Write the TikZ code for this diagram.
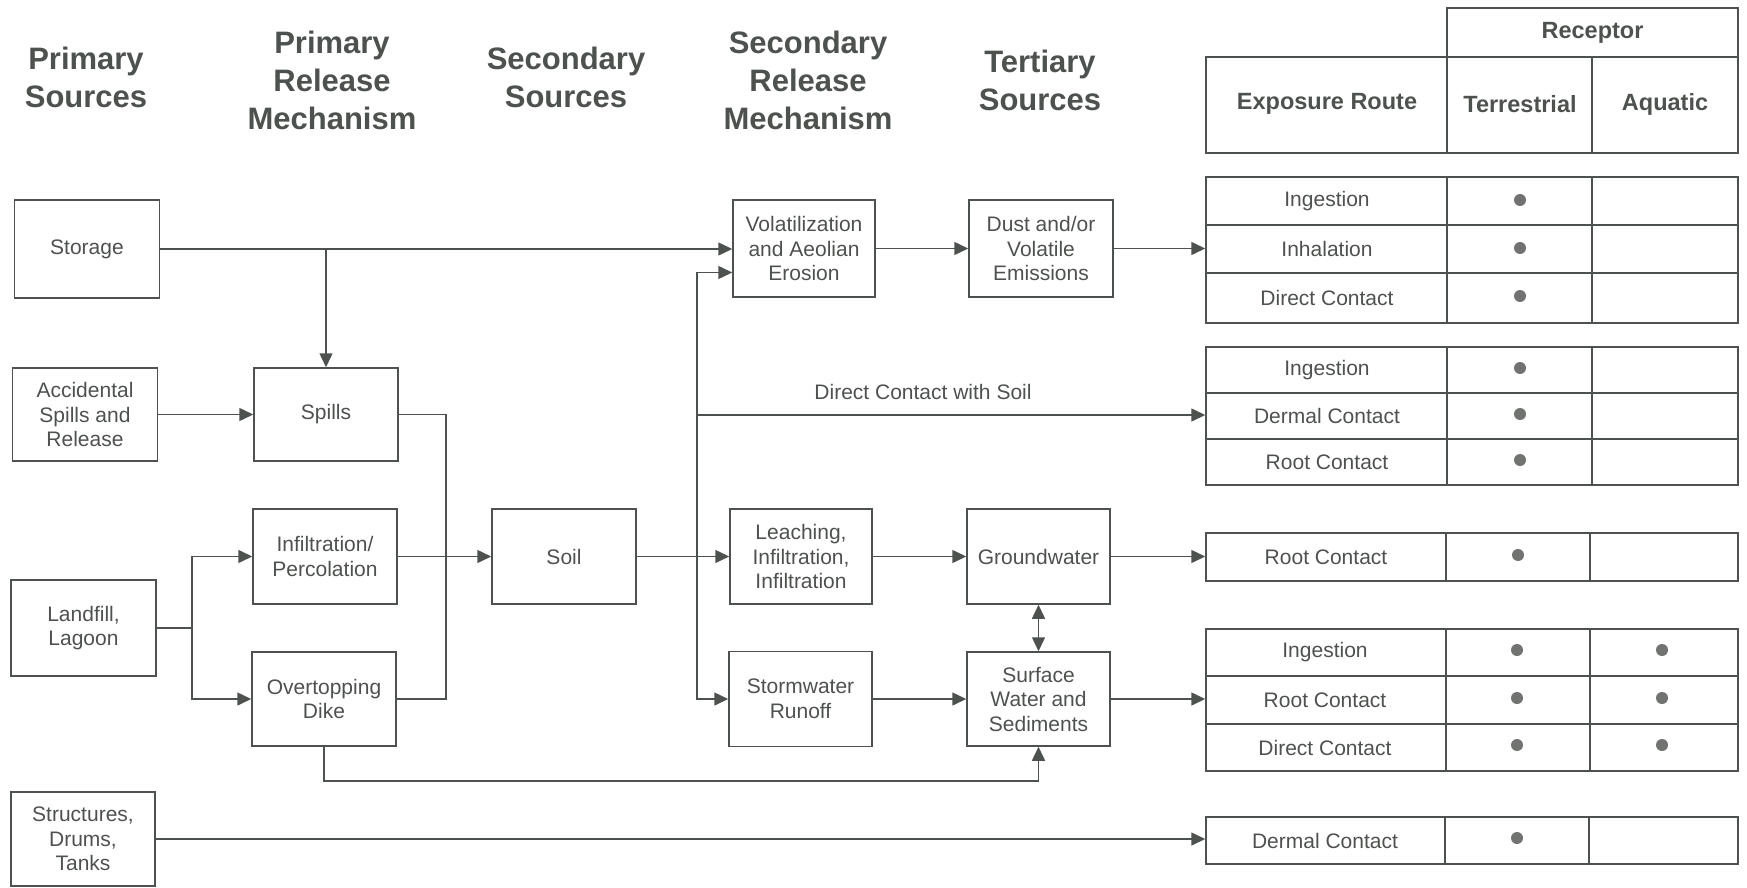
\documentclass[tikz,border=0pt]{standalone}
\usepackage{fontspec}
\setmainfont{Liberation Sans}
\usetikzlibrary{arrows.meta,calc}
\definecolor{ink}{RGB}{78,82,78}
\definecolor{dotc}{RGB}{112,115,112}
\begin{document}
\begin{tikzpicture}[x=1pt,y=-1pt,
  box/.style={draw=ink,line width=1.5pt,text=ink,inner sep=0pt,align=center,font=\fontsize{21}{24.5}\selectfont},
  hdr/.style={text=ink,align=center,font=\fontsize{31}{38}\selectfont\bfseries,inner sep=0pt},
  cell/.style={text=ink,font=\fontsize{21}{24}\selectfont,inner sep=0pt},
  hcell/.style={text=ink,font=\fontsize{23.5}{28}\selectfont\bfseries,inner sep=0pt},
  frame/.style={draw=ink,line width=1.5pt,inner sep=0pt},
  arr/.style={draw=ink,line width=1.5pt,-{Triangle[length=14pt,width=13pt]}},
  darr/.style={draw=ink,line width=1.5pt,{Triangle[length=14pt,width=13pt]}-{Triangle[length=14pt,width=13pt]}},
  ln/.style={draw=ink,line width=1.5pt},
  dot/.style={circle,fill=dotc,inner sep=0pt,minimum size=12pt},
]
\useasboundingbox[fill=white] (0,0) rectangle (1747,888);

% column headers
\node[hdr] (h1) at (86,77.5) {Primary\\Sources};
\node[hdr] (h2) at (332,80) {Primary\\Release\\Mechanism};
\node[hdr] (h3) at (566,77.5) {Secondary\\Sources};
\node[hdr] (h4) at (808,80) {Secondary\\Release\\Mechanism};
\node[hdr] (h5) at (1040,80) {Tertiary\\Sources};

% boxes
\node[box,minimum width=145pt,minimum height=98pt] (storage) at (87,249) {Storage};
\node[box,minimum width=145pt,minimum height=93pt] (acc) at (85,414.5) {Accidental\\Spills and\\Release};
\node[box,minimum width=145pt,minimum height=96pt] (land) at (83.5,628) {Landfill,\\Lagoon};
\node[box,minimum width=144pt,minimum height=94pt] (struct) at (83,839) {Structures,\\Drums,\\Tanks};
\node[box,minimum width=144pt,minimum height=93pt] (spills) at (326,414.5) {Spills};
\node[box,minimum width=144pt,minimum height=95pt] (infil) at (325,556.5) {Infiltration/\\Percolation};
\node[box,minimum width=144pt,minimum height=94pt] (over) at (324,699) {Overtopping\\Dike};
\node[box,minimum width=144pt,minimum height=95pt] (soil) at (564,556.5) {Soil};
\node[box,minimum width=142pt,minimum height=97pt] (volat) at (804,248.5) {Volatilization\\and Aeolian\\Erosion};
\node[box,minimum width=142pt,minimum height=95pt] (leach) at (801,556.5) {Leaching,\\Infiltration,\\Infiltration};
\node[box,minimum width=143pt,minimum height=95pt] (storm) at (800.5,699) {Stormwater\\Runoff};
\node[box,minimum width=144pt,minimum height=97pt] (dust) at (1041,248.5) {Dust and/or\\Volatile\\Emissions};
\node[box,minimum width=143pt,minimum height=95pt] (ground) at (1038.5,556.5) {Groundwater};
\node[box,minimum width=143pt,minimum height=94pt] (surf) at (1038.5,699) {Surface\\Water and\\Sediments};

% table header
\node[frame,minimum width=291pt,minimum height=49pt] (tr) at (1592.5,32.5) {};
\node[frame,minimum width=532pt,minimum height=96pt] (th) at (1472,105) {};
\draw[ln] (1447,57) -- (1447,153);
\draw[ln] (1592,57) -- (1592,153);
\node[hcell] (hrec) at (1592.5,33) {Receptor};
\node[hcell] (hexp) at (1327,104) {Exposure Route};
\node[hcell] (hter) at (1520,104) {Terrestrial};
\node[hcell] (haq) at (1665,104) {Aquatic};

% table 1
\node[frame,minimum width=532pt,minimum height=146pt] (t1) at (1472,250) {};
\draw[ln] (1447,177) -- (1447,323);
\draw[ln] (1592,177) -- (1592,323);
\draw[ln] (1206,225) -- (1738,225);
\draw[ln] (1206,273) -- (1738,273);
\node[cell] (t1a) at (1327,201) {Ingestion};
\node[cell] (t1b) at (1327,249) {Inhalation};
\node[cell] (t1c) at (1327,298) {Direct Contact};
\node[dot] (d1a) at (1520,200) {};
\node[dot] (d1b) at (1520,248) {};
\node[dot] (d1c) at (1520,296) {};

% table 2
\node[frame,minimum width=532pt,minimum height=138pt] (t2) at (1472,416) {};
\draw[ln] (1447,347) -- (1447,485);
\draw[ln] (1592,347) -- (1592,485);
\draw[ln] (1206,393) -- (1738,393);
\draw[ln] (1206,439) -- (1738,439);
\node[cell] (t2a) at (1327,370) {Ingestion};
\node[cell] (t2b) at (1327,416) {Dermal Contact};
\node[cell] (t2c) at (1327,462) {Root Contact};
\node[dot] (d2a) at (1520,368) {};
\node[dot] (d2b) at (1520,414) {};
\node[dot] (d2c) at (1520,460) {};

% table 3
\node[frame,minimum width=532pt,minimum height=48pt] (t3) at (1472,557) {};
\draw[ln] (1446,533) -- (1446,581);
\draw[ln] (1590,533) -- (1590,581);
\node[cell] (t3a) at (1326,557) {Root Contact};
\node[dot] (d3a) at (1518,555) {};

% table 4
\node[frame,minimum width=532pt,minimum height=142pt] (t4) at (1472,700) {};
\draw[ln] (1446,629) -- (1446,771);
\draw[ln] (1590,629) -- (1590,771);
\draw[ln] (1206,676) -- (1738,676);
\draw[ln] (1206,724) -- (1738,724);
\node[cell] (t4a) at (1325,652.5) {Ingestion};
\node[cell] (t4b) at (1325,700) {Root Contact};
\node[cell] (t4c) at (1325,747.5) {Direct Contact};
\node[dot] (d4a) at (1517,650) {};
\node[dot] (d4b) at (1517,698) {};
\node[dot] (d4c) at (1517,745) {};
\node[dot] (d4d) at (1662,650) {};
\node[dot] (d4e) at (1662,698) {};
\node[dot] (d4f) at (1662,745) {};

% table 5
\node[frame,minimum width=532pt,minimum height=47pt] (t5) at (1472,840.5) {};
\draw[ln] (1445,817) -- (1445,864);
\draw[ln] (1589,817) -- (1589,864);
\node[cell] (t5a) at (1325,840.5) {Dermal Contact};
\node[dot] (d5a) at (1517,838) {};

% connectors
\draw[arr] (storage.east) -- (storage.east -| volat.west);
\coordinate (sb) at (storage.east -| spills.north);
\draw[arr] (sb) -- (spills.north);
\draw[arr] (acc.east) -- (spills.west);
\draw[ln] (spills.east) -- ++(47,0) |- (over.east);
\coordinate (lb) at ($(land.east)+(35,0)$);
\draw[ln] (land.east) -- (lb);
\draw[arr] (lb) |- (infil.west);
\draw[arr] (lb) |- (over.west);
\draw[arr] (infil.east) -- (soil.west);
\draw[arr] (soil.east) -- (leach.west);
\coordinate (jn) at (697,556.5);
\draw[arr] (jn) |- ([yshift=-24pt]volat.west);
\draw[arr] (jn) |- (storm.west);
\coordinate (dc) at (697,415);
\draw[arr] (dc) -- (dc -| t2.west);
\node[cell] (dclabel) at (923,392) {Direct Contact with Soil};
\draw[arr] (volat.east) -- (dust.west);
\draw[arr] (dust.east) -- (dust.east -| t1.west);
\draw[arr] (leach.east) -- (ground.west);
\draw[arr] (ground.east) -- (ground.east -| t3.west);
\draw[arr] (storm.east) -- (surf.west);
\draw[arr] (surf.east) -- (surf.east -| t4.west);
\draw[darr] (ground.south) -- (surf.north);
\draw[arr] (over.south) -- ++(0,34) -| (surf.south);
\draw[arr] (struct.east) -- (struct.east -| t5.west);
\end{tikzpicture}
\end{document}
